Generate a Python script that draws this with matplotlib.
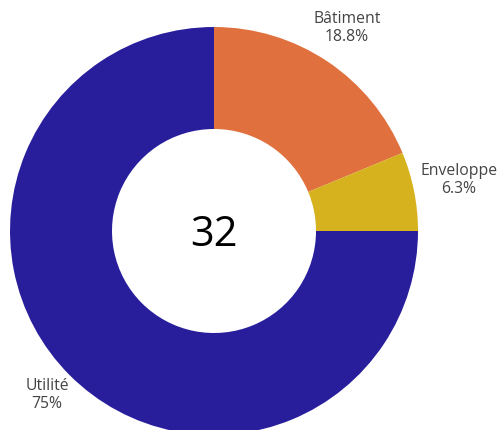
from decimal import Decimal, ROUND_HALF_UP
import matplotlib.pyplot as plt

plt.rcParams['font.family'] = ['Open Sans', 'DejaVu Sans']

labels = ["Bâtiment", "Enveloppe", "Utilité"]
counts = [6, 2, 24]
colors = ["#E0703E", "#D6B21E", "#281E9C"]
total_label = "32"

# pixel-space layout (y measured downward from top, negated for the axes)
W, H = 500, 430
cx, cy = 214, -231
r_out = 204
hole = 0.5

fig = plt.figure(figsize=(W / 100, H / 100), dpi=100)
ax = fig.add_axes([0, 0, 1, 1])

wedges, _ = ax.pie(counts, colors=colors, startangle=90, counterclock=False,
                   radius=r_out, center=(cx, cy),
                   wedgeprops=dict(width=r_out * (1 - hole), linewidth=0))

ax.set_xlim(0, W)
ax.set_ylim(-H, 0)
ax.set_aspect('equal')
ax.axis('off')


def fmt_pct(n, tot):
    p = Decimal(n) * 100 / Decimal(tot)
    p = p.quantize(Decimal("0.1"), rounding=ROUND_HALF_UP)
    s = f"{p}"
    if s.endswith(".0"):
        s = s[:-2]
    return s + "%"


# outside label anchors (pixels), alignment
label_pos = {
    "Bâtiment": (347, 28, 'center'),
    "Enveloppe": (420, 180, 'left'),
    "Utilité": (47, 395, 'center'),
}
for lab, n in zip(labels, counts):
    x, y, ha = label_pos[lab]
    ax.text(x, -y, f"{lab}\n{fmt_pct(n, sum(counts))}", ha=ha, va='center',
            fontsize=11.3, color="#444444", linespacing=1.2,
            multialignment='center')

ax.text(cx, -246, total_label, ha='center', va='baseline', fontsize=30,
        color="black")

fig.savefig("out.png", dpi=100)
